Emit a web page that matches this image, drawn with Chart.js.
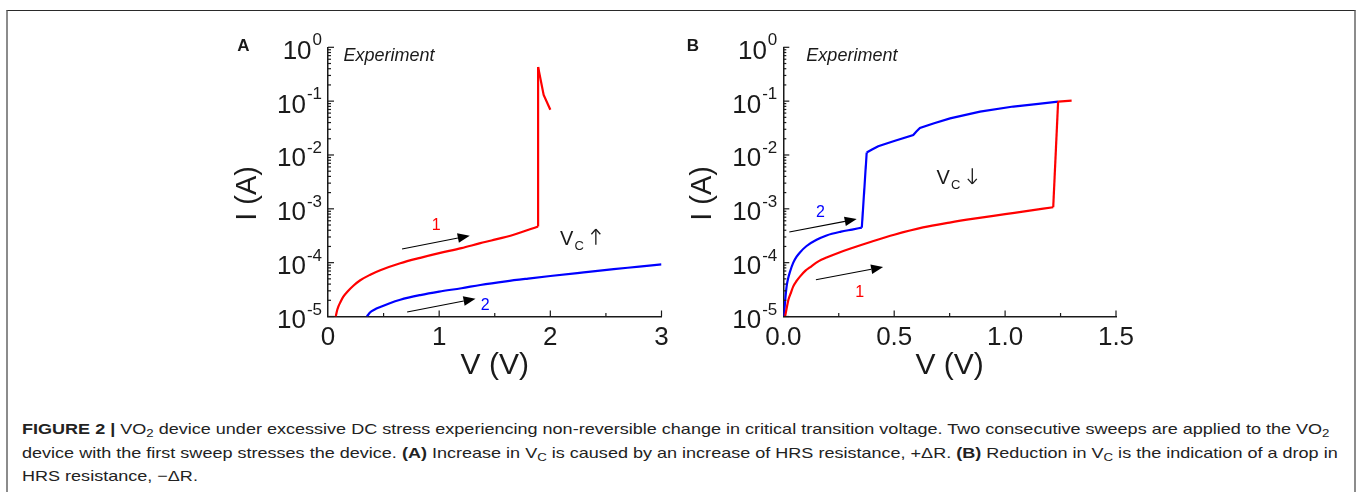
<!DOCTYPE html>
<html>
<head>
<meta charset="utf-8">
<script src="https://cdn.jsdelivr.net/npm/chart.js@4.4.0/dist/chart.umd.min.js"></script>
<style>
body { margin:0; background:#fff; width:1360px; height:492px; overflow:hidden; position:relative; font-family:"Liberation Sans", Arial, sans-serif; }
#frame { position:absolute; left:6px; top:10px; width:1346px; height:500px; border-top:1px solid #2a2a2a; border-left:2px solid #8c8c8c; border-right:2px solid #8c8c8c; }
canvas.panel { position:absolute; top:0; }
#cA { left:0; }
#cB { left:680px; }
.cap { position:absolute; left:22px; white-space:nowrap; font-size:15px; line-height:23px; color:#222; transform-origin:0 0; }
.cap sub { font-size:11px; vertical-align:-3px; line-height:0; }
</style>
</head>
<body>
<div id="frame"></div>
<canvas id="cA" class="panel" width="680" height="388"></canvas>
<canvas id="cB" class="panel" width="680" height="388"></canvas>
<div class="cap" id="l1" style="top:417px"><b>FIGURE 2 |</b> VO<sub>2</sub> device under excessive DC stress experiencing non-reversible change in critical transition voltage. Two consecutive sweeps are applied to the VO<sub>2</sub></div>
<div class="cap" id="l2" style="top:441px">device with the first sweep stresses the device. <b>(A)</b> Increase in V<sub>C</sub> is caused by an increase of HRS resistance, +&Delta;R. <b>(B)</b> Reduction in V<sub>C</sub> is the indication of a drop in</div>
<div class="cap" id="l3" style="top:464px">HRS resistance, &minus;&Delta;R.</div>
<script>
// panel A, sweep 1 (red): smooth rise, then the jump/spike part
var vA1 = [0.07, 0.079, 0.093, 0.111, 0.138, 0.174, 0.228, 0.29, 0.38, 0.47, 0.65, 0.83, 1.0, 1.2, 1.37, 1.47, 1.67, 1.89];
var iA1 = [1.0e-5, 1.23e-5, 1.52e-5, 1.84e-5, 2.33e-5, 2.88e-5, 3.72e-5, 4.71e-5, 5.97e-5, 7.23e-5, 9.75e-5, 1.23e-4, 1.5e-4, 1.86e-4, 2.3e-4, 2.58e-4, 3.3e-4, 4.7e-4];
var vA1hi = [1.89, 1.94, 2.0];
var iA1hi = [0.43, 0.13, 0.069];
// panel A, sweep 2 (blue)
var vA2 = [0.35, 0.38, 0.42, 0.47, 0.55, 0.65, 0.83, 1.0, 1.2, 1.37, 1.6, 1.8, 2.0, 2.3, 2.57, 2.8, 3.0];
var iA2 = [1.0e-5, 1.2e-5, 1.35e-5, 1.5e-5, 1.75e-5, 2.05e-5, 2.5e-5, 2.9e-5, 3.35e-5, 3.85e-5, 4.5e-5, 5.06e-5, 5.65e-5, 6.6e-5, 7.57e-5, 8.45e-5, 9.33e-5];

// panel B, sweep 1 (red)
var vB1 = [0.008, 0.015, 0.023, 0.035, 0.045, 0.06, 0.075, 0.10, 0.12, 0.16, 0.195, 0.25, 0.30, 0.40, 0.50, 0.63, 0.75, 0.86, 1.0, 1.08, 1.217];
var iB1 = [1e-5, 1.41e-5, 2.04e-5, 2.82e-5, 3.63e-5, 4.57e-5, 5.5e-5, 7.1e-5, 8.2e-5, 1.07e-4, 1.245e-4, 1.53e-4, 1.81e-4, 2.47e-4, 3.3e-4, 4.52e-4, 5.56e-4, 6.56e-4, 7.94e-4, 8.87e-4, 1.07e-3];
var vB1hi = [1.239, 1.30];
var iB1hi = [9.8e-2, 1.02e-1];
// panel B, sweep 2 (blue)
var vB2 = [0.003, 0.009, 0.015, 0.022, 0.03, 0.045, 0.06, 0.075, 0.105, 0.15, 0.195, 0.26, 0.31, 0.354];
var iB2 = [1e-5, 2.09e-5, 3.63e-5, 5.13e-5, 6.76e-5, 1.0e-4, 1.29e-4, 1.55e-4, 2.04e-4, 2.66e-4, 3.2e-4, 3.76e-4, 4.12e-4, 4.47e-4];
var vB2hi = [0.376, 0.40, 0.428, 0.50, 0.586, 0.60, 0.616, 0.68, 0.752, 0.887, 1.037, 1.15, 1.239];
var iB2hi = [1.11e-2, 1.26e-2, 1.45e-2, 1.82e-2, 2.34e-2, 2.72e-2, 3.16e-2, 3.89e-2, 4.79e-2, 6.38e-2, 7.94e-2, 8.91e-2, 9.77e-2];

// axes
var yExps = [0, -1, -2, -3, -4, -5];
var xTicksA = [0, 1, 2, 3];
var xLabelsA = ['0', '1', '2', '3'];
var xMinorA = [0.5, 1.5, 2.5];
var xTicksB = [0, 0.5, 1.0, 1.5];
var xLabelsB = ['0.0', '0.5', '1.0', '1.5'];
var xMinorB = [0.25, 0.75, 1.25];

var RED = 'rgb(255,0,0)';
var BLUE = 'rgb(0,0,255)';
var INK = '#1a1a1a';
var FONT = '"Liberation Sans", Arial, sans-serif';

function pts(xs, ys)
{
    var out = [];
    for (var i = 0; i < xs.length; i++) out.push({x: xs[i], y: ys[i]});
    return out;
}

function line(ctx, x0, y0, x1, y1)
{
    ctx.beginPath();
    ctx.moveTo(x0, y0);
    ctx.lineTo(x1, y1);
    ctx.stroke();
}

var deco = {
    id: 'deco',
    afterDraw: function(chart, args, o) {
        var ctx = chart.ctx, xs = chart.scales.x, ys = chart.scales.y, ca = chart.chartArea;
        ctx.save();
        ctx.strokeStyle = INK;
        ctx.fillStyle = INK;
        ctx.lineWidth = 1.2;
        // y ticks (inside) + labels 10^n
        yExps.forEach(function(e) {
            var p = ys.getPixelForValue(Math.pow(10, e));
            line(ctx, ca.left, p, ca.left + 6, p);
            if (e < 0) {
                for (var k = 2; k <= 9; k++) {
                    var pm = ys.getPixelForValue(k * Math.pow(10, e));
                    line(ctx, ca.left, pm, ca.left + 3, pm);
                }
            }
            ctx.textAlign = 'right';
            ctx.textBaseline = 'alphabetic';
            ctx.font = '17px ' + FONT;
            var sup = String(e);
            var sw = ctx.measureText(sup).width;
            ctx.fillText(sup, ca.left - 6, p - 2);
            ctx.font = '26px ' + FONT;
            ctx.fillText('10', ca.left - 7 - sw, p + 11.5);
        });
        // x ticks
        o.xTicks.forEach(function(v, i) {
            var p = xs.getPixelForValue(v);
            if (i > 0) line(ctx, p, ca.bottom, p, ca.bottom - 6);
            ctx.textAlign = 'center';
            ctx.font = '26px ' + FONT;
            ctx.fillText(o.xLabels[i], p, ca.bottom + 28);
        });
        o.xMinor.forEach(function(v) {
            var p = xs.getPixelForValue(v);
            line(ctx, p, ca.bottom, p, ca.bottom - 3.5);
        });
        // axis titles
        ctx.font = '30px ' + FONT;
        ctx.textAlign = 'center';
        ctx.fillText('V (V)', (ca.left + ca.right) / 2, ca.bottom + 57);
        ctx.save();
        ctx.font = '29px ' + FONT;
        ctx.translate(ca.left - 72, (ca.top + ca.bottom) / 2 + 11.5);
        ctx.rotate(-Math.PI / 2);
        ctx.fillText('I (A)', 0, 0);
        ctx.restore();
        // panel letter
        ctx.font = 'bold 17px ' + FONT;
        ctx.fillText(o.letter, o.letterX, 51);
        // notes
        o.notes.forEach(function(n) {
            ctx.font = n.font + ' ' + FONT;
            ctx.fillStyle = n.color;
            ctx.textAlign = n.align;
            ctx.fillText(n.text, xs.getPixelForValue(n.x), ys.getPixelForValue(n.y));
        });
        // arrows
        ctx.fillStyle = '#000';
        ctx.strokeStyle = '#000';
        ctx.lineWidth = 1.1;
        o.arrows.forEach(function(a) {
            var x0 = xs.getPixelForValue(a.x0), y0 = ys.getPixelForValue(a.y0);
            var x1 = xs.getPixelForValue(a.x1), y1 = ys.getPixelForValue(a.y1);
            var ang = Math.atan2(y1 - y0, x1 - x0), L = 12, W = 4.8;
            var bx = x1 - L * Math.cos(ang), by = y1 - L * Math.sin(ang);
            line(ctx, x0, y0, bx, by);
            ctx.beginPath();
            ctx.moveTo(x1, y1);
            ctx.lineTo(bx + W * Math.sin(ang), by - W * Math.cos(ang));
            ctx.lineTo(bx - W * Math.sin(ang), by + W * Math.cos(ang));
            ctx.closePath();
            ctx.fill();
        });
        // V_C with up/down arrow
        var vc = o.vc;
        var vx = xs.getPixelForValue(vc.x), vy = ys.getPixelForValue(vc.y);
        ctx.fillStyle = INK;
        ctx.strokeStyle = INK;
        ctx.textAlign = 'left';
        ctx.font = '20px ' + FONT;
        ctx.fillText('V', vx, vy);
        var w = ctx.measureText('V').width;
        ctx.font = '13px ' + FONT;
        ctx.fillText('C', vx + w + 1, vy + 5.5);
        var ax = vx + w + 1 + ctx.measureText('C').width + 12;
        ctx.lineWidth = 1.3;
        line(ctx, ax, vy, ax, vy - 15.5);
        if (vc.up) {
            line(ctx, ax - 4.5, vy - 10.5, ax, vy - 15.5);
            line(ctx, ax + 4.5, vy - 10.5, ax, vy - 15.5);
        } else {
            line(ctx, ax - 4.5, vy - 5, ax, vy);
            line(ctx, ax + 4.5, vy - 5, ax, vy);
        }
        ctx.restore();
    }
};

// each curve: smooth branches plus straight jumps between them
function curve(branches, color)
{
    var out = [];
    branches.forEach(function(b, k) {
        if (k > 0) {
            var p = branches[k - 1];
            out.push({ data: [{x: p[0][p[0].length - 1], y: p[1][p[1].length - 1]}, {x: b[0][0], y: b[1][0]}],
                       borderColor: color, borderWidth: 2.2, showLine: true, pointRadius: 0, tension: 0 });
        }
        var ds = { data: pts(b[0], b[1]), borderColor: color, borderWidth: 2.2, showLine: true, pointRadius: 0, tension: 0 };
        if (b[2]) ds.cubicInterpolationMode = 'monotone';
        out.push(ds);
    });
    return out;
}

function makeChart(id, datasets, xmax, padL, padR, deco_opts)
{
    return new Chart(document.getElementById(id), {
        type: 'scatter',
        data: { datasets: datasets },
        options: {
            responsive: false,
            animation: false,
            events: [],
            layout: { padding: { left: padL, right: padR, top: 47.3, bottom: 71.5 } },
            plugins: { legend: { display: false }, tooltip: { enabled: false }, deco: deco_opts },
            scales: {
                x: {
                    type: 'linear', min: 0, max: xmax,
                    grid: { display: false, drawTicks: false },
                    ticks: { display: false },
                    border: { display: true, color: INK, width: 1.5 },
                    afterFit: function(s) { s.height = 0; }
                },
                y: {
                    type: 'logarithmic', min: 1e-5, max: 1,
                    grid: { display: false, drawTicks: false },
                    ticks: { display: false },
                    border: { display: true, color: INK, width: 1.5 },
                    afterFit: function(s) { s.width = 0; }
                }
            }
        },
        plugins: [deco]
    });
}

var dsA = curve([[vA1, iA1, true], [vA1hi, iA1hi, false]], RED).concat(curve([[vA2, iA2, true]], BLUE));
makeChart('cA', dsA, 3, 328, 18.5, {
    xTicks: xTicksA, xLabels: xLabelsA, xMinor: xMinorA,
    letter: 'A', letterX: 243.5,
    notes: [
        { text: 'Experiment', x: 0.14, y: 0.557, font: 'italic 18px', color: INK, align: 'left' },
        { text: '1', x: 0.973, y: 4.07e-4, font: '16px', color: RED, align: 'center' },
        { text: '2', x: 1.413, y: 1.31e-5, font: '16px', color: BLUE, align: 'center' }
    ],
    arrows: [
        { x0: 0.666, y0: 1.79e-4, x1: 1.275, y1: 3.16e-4 },
        { x0: 0.712, y0: 1.21e-5, x1: 1.327, y1: 2.14e-5 }
    ],
    vc: { x: 2.088, y: 2.15e-4, up: true }
});

var dsB = curve([[vB1, iB1, true], [vB1hi, iB1hi, false]], RED).concat(curve([[vB2, iB2, true], [vB2hi, iB2hi, false]], BLUE));
makeChart('cB', dsB, 1.5, 103.3, 244, {
    xTicks: xTicksB, xLabels: xLabelsB, xMinor: xMinorB,
    letter: 'B', letterX: 13,
    notes: [
        { text: 'Experiment', x: 0.104, y: 0.557, font: 'italic 18px', color: INK, align: 'left' },
        { text: '2', x: 0.168, y: 7.1e-4, font: '16px', color: BLUE, align: 'center' },
        { text: '1', x: 0.345, y: 2.33e-5, font: '16px', color: RED, align: 'center' }
    ],
    arrows: [
        { x0: 0.027, y0: 3.70e-4, x1: 0.331, y1: 6.45e-4 },
        { x0: 0.147, y0: 4.82e-5, x1: 0.45, y1: 8.3e-5 }
    ],
    vc: { x: 0.691, y: 2.91e-3, up: false }
});

// caption font is wider than Liberation Sans: stretch to the original line length
var l1 = document.getElementById('l1');
var k = 1308 / l1.scrollWidth;
['l1', 'l2', 'l3'].forEach(function(id) {
    document.getElementById(id).style.transform = 'scaleX(' + k + ')';
});
</script>
</body>
</html>
